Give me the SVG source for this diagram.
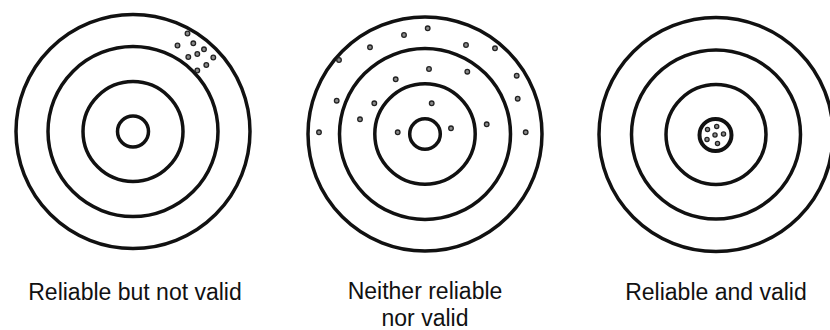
<svg xmlns="http://www.w3.org/2000/svg" width="830" height="330" viewBox="0 0 830 330">
<style>
.ring{fill:none;stroke:#111;stroke-width:3.5}
.hit{fill:#8a8a8a;stroke:#222;stroke-width:1.3}
.lbl{font-family:"Liberation Sans",Arial,sans-serif;font-size:23px;fill:#111;text-anchor:middle}
</style>
<rect width="830" height="330" fill="#fff"/>
<g id="target-reliable-not-valid">
<circle class="ring" cx="133" cy="131.5" r="117"/>
<circle class="ring" cx="133" cy="131.5" r="85"/>
<circle class="ring" cx="133" cy="131.5" r="50"/>
<circle class="ring" cx="133" cy="131.5" r="15.5"/>
<g>
<circle class="hit" cx="187.5" cy="33.5" r="2.3"/>
<circle class="hit" cx="177.5" cy="45.5" r="2.3"/>
<circle class="hit" cx="193.3" cy="43.3" r="2.3"/>
<circle class="hit" cx="188.3" cy="57" r="2.3"/>
<circle class="hit" cx="197.3" cy="54" r="2.3"/>
<circle class="hit" cx="204" cy="49.3" r="2.3"/>
<circle class="hit" cx="213.3" cy="57.5" r="2.3"/>
<circle class="hit" cx="206.3" cy="65" r="2.3"/>
<circle class="hit" cx="197.3" cy="70.5" r="2.3"/>
</g>
<text class="lbl" x="135" y="300">Reliable but not valid</text>
</g>
<g id="target-neither">
<circle class="ring" cx="425" cy="134" r="117"/>
<circle class="ring" cx="425" cy="134" r="85.5"/>
<circle class="ring" cx="425" cy="134" r="50.2"/>
<circle class="ring" cx="425" cy="134" r="15.3"/>
<g>
<circle class="hit" cx="427.7" cy="28.3" r="2.3"/>
<circle class="hit" cx="404" cy="35" r="2.3"/>
<circle class="hit" cx="370" cy="47.3" r="2.3"/>
<circle class="hit" cx="466" cy="45" r="2.3"/>
<circle class="hit" cx="495" cy="48.3" r="2.3"/>
<circle class="hit" cx="339" cy="60" r="2.3"/>
<circle class="hit" cx="429" cy="69" r="2.3"/>
<circle class="hit" cx="467.3" cy="71.7" r="2.3"/>
<circle class="hit" cx="395.7" cy="79.3" r="2.3"/>
<circle class="hit" cx="516.7" cy="75.7" r="2.3"/>
<circle class="hit" cx="336.7" cy="100.7" r="2.3"/>
<circle class="hit" cx="374.3" cy="103.3" r="2.3"/>
<circle class="hit" cx="431.7" cy="103.3" r="2.3"/>
<circle class="hit" cx="517.7" cy="98.7" r="2.3"/>
<circle class="hit" cx="360" cy="119.3" r="2.3"/>
<circle class="hit" cx="486.7" cy="124.3" r="2.3"/>
<circle class="hit" cx="451" cy="128.3" r="2.3"/>
<circle class="hit" cx="319" cy="132.3" r="2.3"/>
<circle class="hit" cx="397.7" cy="132.3" r="2.3"/>
<circle class="hit" cx="525.7" cy="132.3" r="2.3"/>
</g>
<text class="lbl" x="425" y="299">Neither reliable</text>
<text class="lbl" x="425" y="326">nor valid</text>
</g>
<g id="target-reliable-valid">
<circle class="ring" cx="716" cy="134.5" r="117"/>
<circle class="ring" cx="716" cy="134.5" r="84.5"/>
<circle class="ring" cx="716" cy="134.5" r="50"/>
<circle class="ring" cx="715.5" cy="135" r="16" style="stroke-width:4"/>
<g>
<circle class="hit" cx="716.7" cy="126.5" r="2.1"/>
<circle class="hit" cx="707.5" cy="129.5" r="2.1"/>
<circle class="hit" cx="715" cy="135" r="2.1"/>
<circle class="hit" cx="723.5" cy="134" r="2.1"/>
<circle class="hit" cx="707" cy="139.5" r="2.1"/>
<circle class="hit" cx="717.5" cy="143.5" r="2.1"/>
</g>
<text class="lbl" x="716" y="300">Reliable and valid</text>
</g>
<g id="connectors"/>
</svg>
